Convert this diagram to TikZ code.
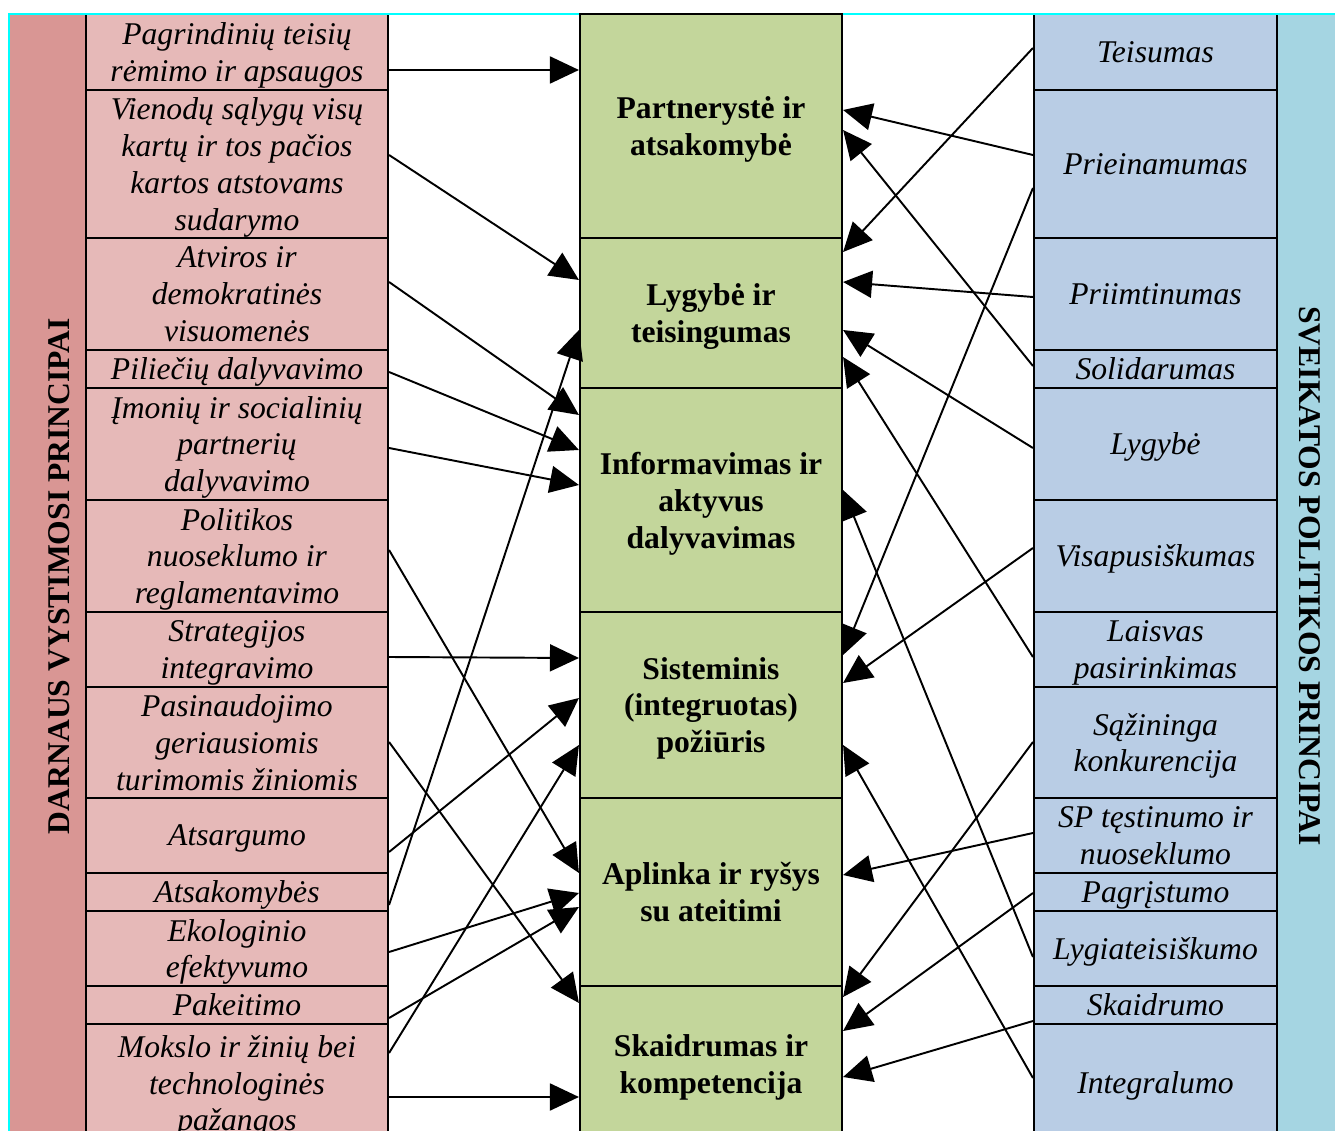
\documentclass[tikz,border=0pt]{standalone}
\usepackage{fontspec}
\setmainfont{Liberation Serif}
\usetikzlibrary{arrows.meta}

\definecolor{dvpband}{RGB}{217,150,148}
\definecolor{dvpfill}{RGB}{230,185,184}
\definecolor{midfill}{RGB}{195,214,155}
\definecolor{spfill}{RGB}{185,205,229}
\definecolor{spband}{RGB}{165,213,226}
\definecolor{cyanline}{RGB}{0,255,255}

\tikzset{
  box/.style={draw, line width=1.2pt, inner sep=0pt, align=center,
    text depth=-4.5pt},
  boxh/.style={minimum height=#1*0.02cm},
  dvp/.style={box, fill=dvpfill, minimum width=302*0.02cm,
    font=\fontsize{18}{21}\selectfont\itshape},
  mid/.style={box, fill=midfill, minimum width=262*0.02cm,
    font=\fontsize{18}{21}\selectfont\bfseries},
  sp/.style={box, fill=spfill, minimum width=243*0.02cm,
    font=\fontsize{18}{21}\selectfont\itshape},
  band/.style={inner sep=0pt, minimum height=1128*0.02cm},
  title/.style={font=\fontsize{18}{21}\selectfont\bfseries},
  link/.style={-{Triangle[length=0.58cm,width=0.54cm]}, line width=1.1pt}
}

\begin{document}
\begin{tikzpicture}[x=0.02cm, y=-0.02cm]
  \useasboundingbox (0,0) rectangle (1335,1131);
  \clip (0,0) rectangle (1335,1131);
  % side bands
  \node[band, fill=dvpband, minimum width=76*0.02cm] (dvpbg) at (48,578) {};
  \node[band, fill=spband, minimum width=70*0.02cm] (spbg) at (1312,578) {};
  \node[title, rotate=90] (dvptitle) at (59,576) {DARNAUS VYSTIMOSI PRINCIPAI};
  \node[title, rotate=-90] (sptitle) at (1310,576) {SVEIKATOS POLITIKOS PRINCIPAI};
  % left column
  \draw
    (237,52) node[dvp, boxh=76] (l1) {Pagrindinių teisių\\rėmimo ir apsaugos}
    (237,164) node[dvp, boxh=148] (l2) {Vienodų sąlygų visų\\kartų ir tos pačios\\kartos atstovams\\sudarymo}
    (237,294) node[dvp, boxh=112] (l3) {Atviros ir\\demokratinės\\visuomenės}
    (237,369) node[dvp, boxh=38] (l4) {Piliečių dalyvavimo}
    (237,444) node[dvp, boxh=112] (l5) {Įmonių ir socialinių\\partnerių\\dalyvavimo}
    (237,556) node[dvp, boxh=112] (l6) {Politikos\\nuoseklumo ir\\reglamentavimo}
    (237,649.5) node[dvp, boxh=75] (l7) {Strategijos\\integravimo}
    (237,742.5) node[dvp, boxh=111] (l8) {Pasinaudojimo\\geriausiomis\\turimomis žiniomis}
    (237,835.5) node[dvp, boxh=75] (l9) {Atsargumo}
    (237,892) node[dvp, boxh=38] (l10) {Atsakomybės}
    (237,948.5) node[dvp, boxh=75] (l11) {Ekologinio\\efektyvumo}
    (237,1005) node[dvp, boxh=38] (l12) {Pakeitimo}
    (237,1083) node[dvp, boxh=118] (l13) {Mokslo ir žinių bei\\technologinės\\pažangos};
  % right column
  \draw
    (1155.5,52) node[sp, boxh=76] (r1) {Teisumas}
    (1155.5,164) node[sp, boxh=148] (r2) {Prieinamumas}
    (1155.5,294) node[sp, boxh=112] (r3) {Priimtinumas}
    (1155.5,369) node[sp, boxh=38] (r4) {Solidarumas}
    (1155.5,444) node[sp, boxh=112] (r5) {Lygybė}
    (1155.5,556) node[sp, boxh=112] (r6) {Visapusiškumas}
    (1155.5,649.5) node[sp, boxh=75] (r7) {Laisvas\\pasirinkimas}
    (1155.5,742.5) node[sp, boxh=111] (r8) {Sąžininga\\konkurencija}
    (1155.5,835.5) node[sp, boxh=75] (r9) {SP tęstinumo ir\\nuoseklumo}
    (1155.5,892) node[sp, boxh=38] (r10) {Pagrįstumo}
    (1155.5,948.5) node[sp, boxh=75] (r11) {Lygiateisiškumo}
    (1155.5,1005) node[sp, boxh=38] (r12) {Skaidrumo}
    (1155.5,1083) node[sp, boxh=118] (r13) {Integralumo};
  \draw[cyanline, line width=0.05cm] (9,1145) -- (9,14) -- (1345,14);
  % middle column
  \draw
    (711,126) node[mid, boxh=224] (m1) {Partnerystė ir\\atsakomybė}
    (711,313) node[mid, boxh=150] (m2) {Lygybė ir\\teisingumas}
    (711,500) node[mid, boxh=224] (m3) {Informavimas ir\\aktyvus\\dalyvavimas}
    (711,705) node[mid, boxh=186] (m4) {Sisteminis\\(integruotas)\\požiūris}
    (711,892) node[mid, boxh=188] (m5) {Aplinka ir ryšys\\su ateitimi}
    (711,1064) node[mid, boxh=156] (m6) {Skaidrumas ir\\kompetencija};
  % links
  \begin{scope}[link]
    \draw (l1.east |- 0,70) to (m1.west |- 0,70);
    \draw (l2.east |- 0,155) to (m2.west |- 0,280);
    \draw (l3.east |- 0,282) to (m3.west |- 0,415);
    \draw (l4.east |- 0,372) to (m3.west |- 0,450);
    \draw (l5.east |- 0,448) to (m3.west |- 0,485);
    \draw (l6.east |- 0,550) to (m5.west |- 0,873);
    \draw (l7.east |- 0,657) to (m4.west |- 0,658);
    \draw (l8.east |- 0,742) to (m6.west |- 0,1003);
    \draw (l9.east |- 0,852) to (m4.west |- 0,698);
    \draw (l10.east |- 0,905) to (m2.west |- 0,330);
    \draw (l11.east |- 0,952) to (m5.west |- 0,893);
    \draw (l12.east |- 0,1018) to (m5.west |- 0,907);
    \draw (l13.east |- 0,1053) to (m4.west |- 0,745);
    \draw (l13.east |- 0,1097) to (m6.west |- 0,1097);
    \draw (r1.west |- 0,48) to (m2.east |- 0,252);
    \draw (r2.west |- 0,155) to (m1.east |- 0,110);
    \draw (r2.west |- 0,188) to (m4.east |- 0,655);
    \draw (r3.west |- 0,297) to (m2.east |- 0,282);
    \draw (r4.west |- 0,366) to (m1.east |- 0,130);
    \draw (r5.west |- 0,448) to (m2.east |- 0,330);
    \draw (r6.west |- 0,548) to (m4.east |- 0,683);
    \draw (r7.west |- 0,657) to (m2.east |- 0,357);
    \draw (r8.west |- 0,742) to (m6.east |- 0,997);
    \draw (r9.west |- 0,833) to (m5.east |- 0,875);
    \draw (r10.west |- 0,893) to (m6.east |- 0,1031);
    \draw (r11.west |- 0,957) to (m3.east |- 0,490);
    \draw (r12.west |- 0,1021) to (m6.east |- 0,1077);
    \draw (r13.west |- 0,1078) to (m4.east |- 0,745);
  \end{scope}
\end{tikzpicture}
\end{document}
